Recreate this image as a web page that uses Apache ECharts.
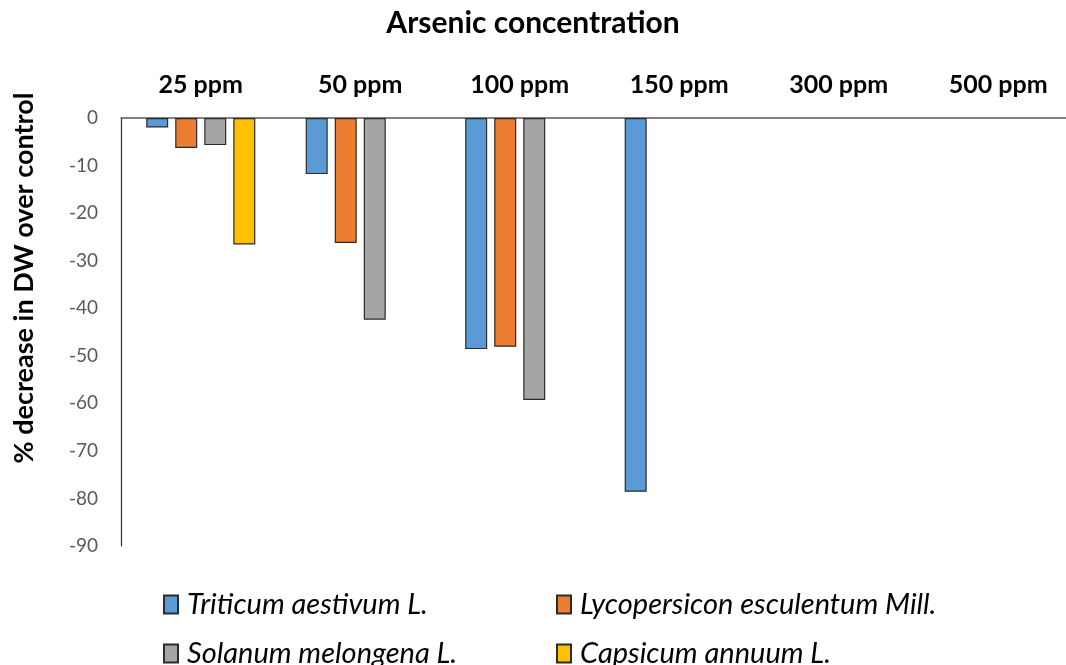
<!DOCTYPE html>
<html>
<head>
<meta charset="utf-8">
<script src="https://cdn.jsdelivr.net/npm/echarts@6/dist/echarts.min.js"></script>
<style>
  html, body { margin: 0; padding: 0; background: #fff; }
  #chart { width: 1066px; height: 665px; }
</style>
</head>
<body>
<div id="chart"></div>
<script>
  // concentrations (top axis)
  const doses = ['25 ppm', '50 ppm', '100 ppm', '150 ppm', '300 ppm', '500 ppm']
  const speciesNames = ['Triticum aestivum L.', 'Lycopersicon esculentum Mill.', 'Solanum melongena L.', 'Capsicum annuum L.']
  // % decrease in DW, null = no plant survived / no value
  const triticum = [-2, -11.8, -48.6, -78.6, null, null]
  const lycopersicon = [-6.3, -26.3, -48.1, null, null, null]
  const solanum = [-5.7, -42.4, -59.3, null, null, null]
  const capsicum = [-26.6, null, null, null, null, null]
  const colors = ['#5B9BD5', '#ED7D31', '#A5A5A5', '#FFC000']

  const font = 'Lato, "Noto Sans", sans-serif'
  const seriesData = [triticum, lycopersicon, solanum, capsicum]

  // one legend per item so they line up in two columns
  const legendPos = [
    { left: 158, top: 585 }, { left: 551, top: 585 },
    { left: 158, top: 634 }, { left: 551, top: 634 }
  ]

  const chart = echarts.init(document.getElementById('chart'))
  const option = {
    animation: false,
    color: colors,
    title: {
      text: 'Arsenic concentration',
      left: 'center',
      top: 3,
      textStyle: { fontFamily: font, fontSize: 30, fontWeight: 'bold', color: '#000' }
    },
    legend: speciesNames.map((n, i) => ({
      data: [n],
      left: legendPos[i].left,
      top: legendPos[i].top,
      icon: 'rect',
      itemWidth: 14,
      itemHeight: 18,
      itemGap: 0,
      textStyle: { fontFamily: font, fontSize: 29, fontStyle: 'italic', color: '#000', padding: [0, 0, 0, 4] }
    })),
    grid: {
      left: 121,
      top: 118,
      right: -12,
      height: 428,
      outerBoundsMode: 'none'
    },
    xAxis: {
      type: 'category',
      position: 'top',
      data: doses,
      axisLine: { lineStyle: { color: '#595959', width: 1.5 } },
      axisTick: { show: false },
      axisLabel: { fontFamily: font, fontSize: 25, fontWeight: 'bold', color: '#000', margin: 21 }
    },
    yAxis: {
      type: 'value',
      min: -90,
      max: 0,
      interval: 10,
      name: '% decrease in DW over control',
      nameLocation: 'middle',
      nameRotate: 90,
      nameGap: 83,
      nameTextStyle: { fontFamily: font, fontSize: 27, fontWeight: 'bold', color: '#000', padding: [0, 0, 0, 108] },
      axisLine: { show: true, lineStyle: { color: '#333', width: 1.2 } },
      axisTick: { show: false },
      splitLine: { show: false },
      axisLabel: { fontFamily: font, fontSize: 19, color: '#595959', margin: 23 }
    },
    series: seriesData.map((d, i) => ({
      name: speciesNames[i],
      type: 'bar',
      data: d,
      barWidth: 22,
      barGap: '32%',
      itemStyle: { borderColor: '#2b2b2b', borderWidth: 1.2 }
    }))
  }
  chart.setOption(option)
</script>
</body>
</html>
